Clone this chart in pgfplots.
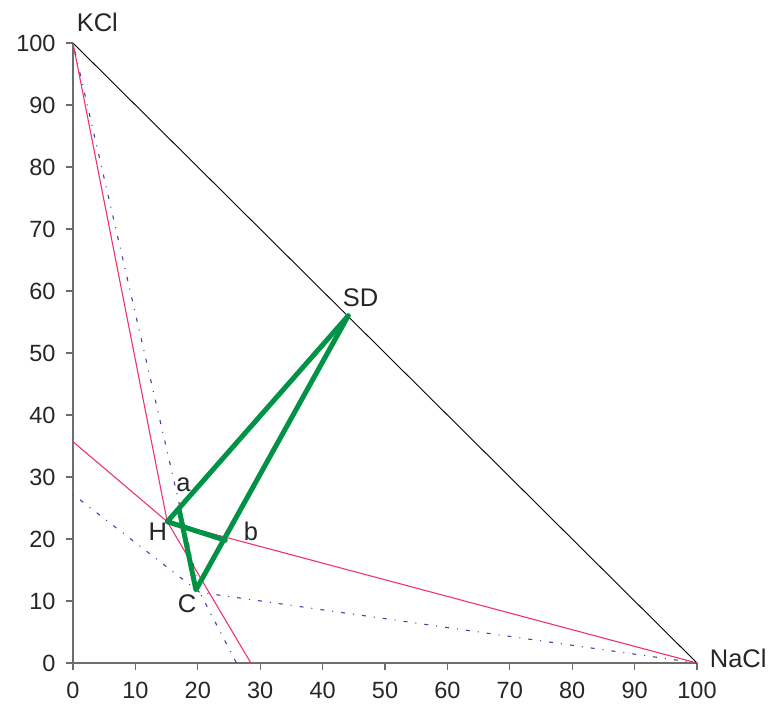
\documentclass[border=0pt]{standalone}
\usepackage{fontspec}
\setmainfont{Liberation Sans}
\usepackage{pgfplots}
\pgfplotsset{compat=1.18}
\definecolor{grn}{RGB}{0,146,69}
\definecolor{pnk}{RGB}{240,50,110}
\definecolor{dblue}{RGB}{80,60,170}
\definecolor{axgray}{RGB}{110,110,110}
\begin{document}
\begin{tikzpicture}
\begin{axis}[
  scale only axis, width=624pt, height=620pt,
  xmin=0, xmax=100, ymin=0, ymax=100,
  axis lines*=left,
  axis line style={axgray, line width=1.2pt},
  tick style={axgray, line width=1.2pt},
  tick align=outside, major tick length=7pt,
  xtick={0,10,...,100}, ytick={0,10,...,100},
  tick label style={font=\fontsize{23.5}{26}\selectfont, text=black!85},
  xticklabel style={yshift=-9pt},
  yticklabel style={xshift=-7pt},
  /pgf/number format/assume math mode=true,
  clip=false,
]
% bounding box
\path (axis cs:-11.7,-7.26) rectangle (axis cs:112.66,106.94);
% hypotenuse
\addplot[black, line width=0.9pt] coordinates {(0,100) (100,0)};
% pink lines
\addplot[pnk, line width=1.1pt] coordinates {(0,100) (15.1,22.8) (28.5,0)};
\addplot[pnk, line width=1.1pt] coordinates {(0,35.7) (15.1,22.8) (100,0)};
% blue dotted lines
\addplot[dblue, line width=1.1pt, dash pattern=on 1pt off 8pt on 4pt off 8pt] coordinates {(0,100) (20.3,11.4) (26.2,0)};
\addplot[dblue, line width=1.1pt, dash pattern=on 1pt off 8pt on 4pt off 8pt] coordinates {(0,27.2) (20.3,11.4) (100,0)};
% green lines
\addplot[grn, line width=5pt, line join=round, line cap=round] coordinates {(44.1,56.0) (15.1,22.8) (24.4,19.8)};
\addplot[grn, line width=5pt, line join=round, line cap=round] coordinates {(44.1,56.0) (19.7,11.8) (17.0,24.8)};
% labels
\begin{scope}[font=\fontsize{25.5}{28}\selectfont, text=black!85]
\node at (axis cs:3.9,103.4) {KCl};
\node[anchor=west] at (axis cs:101.5,0.8) {NaCl};
\node at (axis cs:46.1,58.9) {SD};
\node at (axis cs:17.7,28.7) {a};
\node at (axis cs:13.6,21.2) {H};
\node at (axis cs:28.5,21.2) {b};
\node at (axis cs:18.3,9.6) {C};
\end{scope}
\end{axis}
\end{tikzpicture}
\end{document}
